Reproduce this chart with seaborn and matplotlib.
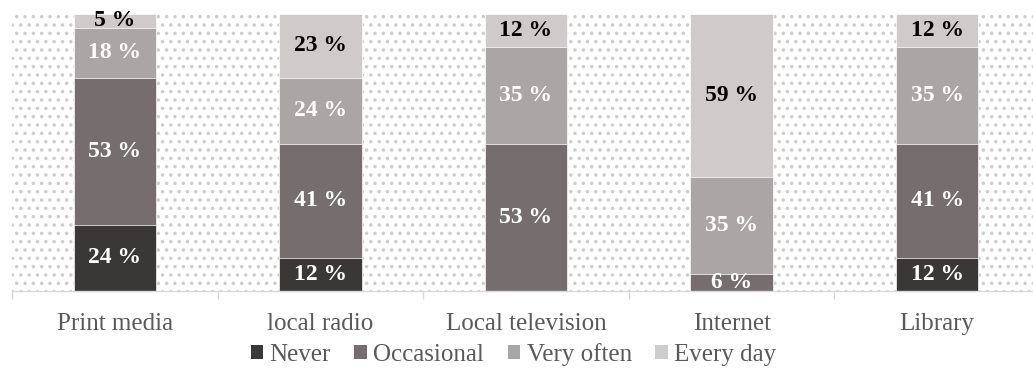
import numpy as np
import pandas as pd
import matplotlib
matplotlib.use("Agg")
import matplotlib.pyplot as plt
from matplotlib.patches import Rectangle, Patch
import seaborn as sns

# Share of respondents per information source and frequency of use (%)
categories = ["Print media", "local radio", "Local television", "Internet", "Library"]
never = [24, 12, 0, 0, 12]
occasional = [53, 41, 53, 6, 41]
very_often = [18, 24, 35, 35, 35]
every_day = [5, 23, 12, 59, 12]

series_names = ["Never", "Occasional", "Very often", "Every day"]
series_values = [never, occasional, very_often, every_day]
series_colors = ["#3a3737", "#766e6e", "#aaa6a6", "#cfcbcb"]
label_colors = ["white", "white", "white", "black"]

sns.set_theme(style="white")
plt.rcParams["font.family"] = ["Liberation Serif", "DejaVu Serif"]
plt.rcParams["hatch.linewidth"] = 1.3

df = pd.DataFrame({"category": categories})
for name, vals in zip(series_names, series_values):
    df[name] = vals
cum = df[series_names].cumsum(axis=1)

fig = plt.figure(figsize=(10.33, 3.87), dpi=100)
ax = fig.add_axes([12 / 1033, 1 - 291 / 387, (1040 - 12) / 1033, 277 / 387])

# dotted plot-area fill
ax.add_patch(Rectangle((0, 0), 1, 1, transform=ax.transAxes, facecolor="white",
                       edgecolor="#cdcdcd", hatch="..", linewidth=0, zorder=0))

# stacked bars: draw cumulative totals from the top series down
for name, color in reversed(list(zip(series_names, series_colors))):
    sns.barplot(data=cum.assign(category=categories), x="category", y=name,
                color=color, width=0.4, saturation=1, ax=ax, zorder=2,
                edgecolor="white", linewidth=0.5)

# value labels centred in each segment
for s, (name, vals) in enumerate(zip(series_names, series_values)):
    bottoms = cum[name].to_numpy() - np.array(vals)
    for i, v in enumerate(vals):
        if v <= 0:
            continue
        ax.text(i, bottoms[i] + v / 2, f"{v} %", ha="center", va="center",
                fontsize=17, fontweight="bold", color=label_colors[s], zorder=3)

ax.set_xlim(-0.5, 4.5)
ax.set_ylim(0, 100)
ax.set_xlabel("")
ax.set_ylabel("")
ax.set_yticks([])
for side in ["left", "right", "top"]:
    ax.spines[side].set_visible(False)
ax.spines["bottom"].set_color("#d9d9d9")
ax.spines["bottom"].set_linewidth(1)

ax.set_xticks(np.arange(-0.5, 5, 1), minor=True)
ax.tick_params(axis="x", which="minor", length=6, color="#d9d9d9", bottom=True)
ax.tick_params(axis="x", which="major", length=0, pad=16, labelsize=18,
               labelcolor="#595959")

handles = [Patch(facecolor=c, edgecolor="none", label=n)
           for n, c in zip(series_names, series_colors)]
fig.legend(handles=handles, loc="center", bbox_to_anchor=(0.497, 0.085), ncol=4,
           frameon=False, fontsize=18, labelcolor="#595959", handlelength=0.5,
           handleheight=0.5, handletextpad=0.25, columnspacing=0.95)

fig.savefig("out.png", dpi=100)
